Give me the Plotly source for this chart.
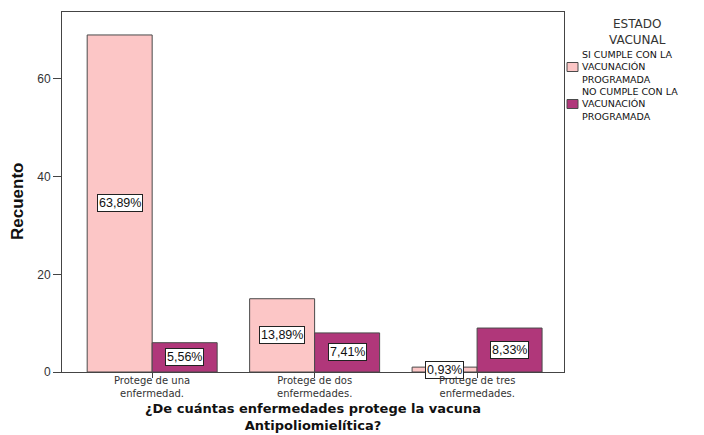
import plotly.graph_objects as go

# Counts per answer and vaccination status
categorias = ["Protege de una<br>enfermedad.", "Protege de dos<br>enfermedades.", "Protege de tres<br>enfermedades."]
si_cumple = [69, 15, 1]
no_cumple = [6, 8, 9]
series_nombres = ["SI CUMPLE CON LA<br>VACUNACIÓN<br>PROGRAMADA", "NO CUMPLE CON LA<br>VACUNACIÓN<br>PROGRAMADA"]
series_colores = ["#fcc6c6", "#b0377a"]
y_ticks = [0, 20, 40, 60]
legend_titulo = "ESTADO<br>VACUNAL"
x_titulo = "¿De cuántas enfermedades protege la vacuna<br>Antipoliomielítica?"

total = sum(si_cumple) + sum(no_cumple)
FONT = "Liberation Sans, Arial, sans-serif"
WIDE = "DejaVu Sans, Verdana, sans-serif"
W, H = 704, 435
M = dict(l=62, r=140, t=12, b=63)

def px(x):  # pixel x -> paper fraction
    return (x - M["l"]) / (W - M["l"] - M["r"])

def py(y):  # pixel y (from top) -> paper fraction
    return (H - M["b"] - y) / (H - M["t"] - M["b"])

fig = go.Figure()
for nombre, valores, color in zip(series_nombres, [si_cumple, no_cumple], series_colores):
    fig.add_trace(go.Bar(
        x=list(range(len(categorias))), y=valores, name=nombre,
        marker=dict(color=color, line=dict(color="#4a4a4a", width=1)),
        showlegend=False,
    ))

# Percentage labels in boxes at mid-height of each bar
def pct(v):
    return f"{v / total * 100:.2f}".replace(".", ",") + "%"

for offset, valores in zip([-0.2, 0.2], [si_cumple, no_cumple]):
    for i, v in enumerate(valores):
        fig.add_annotation(
            x=i + offset, y=v / 2, text=pct(v), showarrow=False,
            font=dict(family=FONT, size=12.5, color="#111111"),
            bgcolor="white", bordercolor="#222222", borderwidth=1, borderpad=1,
        )

# Category labels under the tick marks
for i, cat in enumerate(categorias):
    fig.add_annotation(
        x=i, xref="x", yref="paper", y=py(387), text=cat,
        showarrow=False, xanchor="center", yanchor="middle",
        font=dict(family=WIDE, size=10, color="#333333"),
    )

# Axis titles
fig.add_annotation(
    xref="paper", yref="paper", x=0.5, y=py(417), text=f"<b>{x_titulo}</b>",
    showarrow=False, xanchor="center", yanchor="middle",
    font=dict(family=WIDE, size=13, color="#111111"),
)
fig.add_annotation(
    xref="paper", yref="paper", x=px(17), y=py(202), text="<b>Recuento</b>",
    showarrow=False, textangle=-90, xanchor="center", yanchor="middle",
    font=dict(family=FONT, size=17, color="#111111"),
)

# Legend: title, swatches and wrapped labels
fig.add_annotation(
    xref="paper", yref="paper", x=px(637), y=py(32), text=legend_titulo,
    showarrow=False, xanchor="center", yanchor="middle",
    font=dict(family=WIDE, size=12, color="#333333"),
)
for j, (nombre, color) in enumerate(zip(series_nombres, series_colores)):
    mid = 67 + 37 * j
    fig.add_annotation(
        xref="paper", yref="paper", x=px(580), y=py(mid), text=nombre,
        showarrow=False, xanchor="left", yanchor="middle", align="left",
        font=dict(family=WIDE, size=9.5, color="#111111"),
    )
    fig.add_shape(
        type="rect", xref="paper", yref="paper",
        x0=px(567), x1=px(578), y0=py(mid + 4.5), y1=py(mid - 4.5),
        fillcolor=color, line=dict(color="#4a4a4a", width=1),
    )

fig.update_layout(
    width=W, height=H,
    margin=M,
    paper_bgcolor="white", plot_bgcolor="white",
    barmode="group", bargap=0.2, bargroupgap=0,
    font=dict(family=FONT, color="#222222"),
    showlegend=False,
    xaxis=dict(
        range=[-0.555, 2.535], automargin=False,
        tickmode="array", tickvals=list(range(len(categorias))), showticklabels=False,
        ticks="outside", ticklen=5, tickcolor="#444444",
        showline=True, linecolor="#444444", linewidth=1, mirror=True,
        showgrid=False, zeroline=False,
    ),
    yaxis=dict(
        range=[0, 73.7], automargin=False,
        tickmode="array", tickvals=y_ticks,
        ticks="outside", ticklen=8, tickcolor="#444444",
        tickfont=dict(family=FONT, size=12, color="#333333"),
        showline=True, linecolor="#444444", linewidth=1, mirror=True,
        showgrid=False, zeroline=False,
    ),
)

fig.write_html("out.html")
